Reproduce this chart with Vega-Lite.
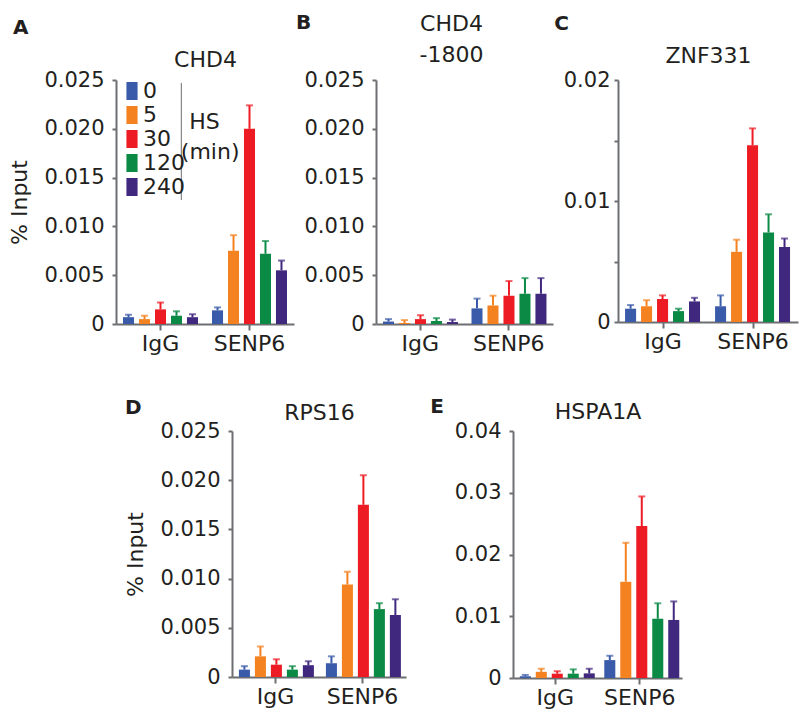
{
  "$schema": "https://vega.github.io/schema/vega-lite/v6.json",
  "padding": {"left": 8, "top": 12, "right": 4, "bottom": 5},
  "background": "white",
  "config": {
    "font": "DejaVu Sans",
    "view": {"stroke": null},
    "axis": {"labelFont": "DejaVu Sans", "labelFontSize": 22, "labelColor": "#231F20", "titleFont": "DejaVu Sans", "titleFontSize": 22, "titleFontWeight": "normal", "titleColor": "#231F20", "domainColor": "#6D6E71", "domainWidth": 2, "tickColor": "#6D6E71", "tickWidth": 2, "grid": false},
    "axisY": {"tickSize": 4, "labelPadding": 8, "titlePadding": 12, "labelFontSize": 21},
    "axisX": {"tickSize": 6, "labelPadding": 3, "labelAngle": 0},
    "title": {"font": "DejaVu Sans", "fontSize": 20, "fontWeight": "bold", "color": "#231F20", "anchor": "start", "frame": "bounds", "baseline": "alphabetic"},
    "text": {"font": "DejaVu Sans", "fontSize": 22, "color": "#231F20"}
  },
  "datasets": {
    "A": [
      {"antibody": "IgG", "time": "0", "value": 0.0007, "upper": 0.00095},
      {"antibody": "IgG", "time": "5", "value": 0.0005, "upper": 0.00085},
      {"antibody": "IgG", "time": "30", "value": 0.0015, "upper": 0.0022},
      {"antibody": "IgG", "time": "120", "value": 0.00085, "upper": 0.0013},
      {"antibody": "IgG", "time": "240", "value": 0.0007, "upper": 0.001},
      {"antibody": "SENP6", "time": "0", "value": 0.0014, "upper": 0.0017},
      {"antibody": "SENP6", "time": "5", "value": 0.0075, "upper": 0.0091},
      {"antibody": "SENP6", "time": "30", "value": 0.02, "upper": 0.0224},
      {"antibody": "SENP6", "time": "120", "value": 0.0072, "upper": 0.0085},
      {"antibody": "SENP6", "time": "240", "value": 0.0055, "upper": 0.0065}
    ],
    "B": [
      {"antibody": "IgG", "time": "0", "value": 0.00025, "upper": 0.0005},
      {"antibody": "IgG", "time": "5", "value": 0.0001, "upper": 0.0004},
      {"antibody": "IgG", "time": "30", "value": 0.0005, "upper": 0.0009},
      {"antibody": "IgG", "time": "120", "value": 0.0003, "upper": 0.0006},
      {"antibody": "IgG", "time": "240", "value": 0.0002, "upper": 0.00045},
      {"antibody": "SENP6", "time": "0", "value": 0.0016, "upper": 0.0026},
      {"antibody": "SENP6", "time": "5", "value": 0.0019, "upper": 0.0029},
      {"antibody": "SENP6", "time": "30", "value": 0.0029, "upper": 0.0044},
      {"antibody": "SENP6", "time": "120", "value": 0.0031, "upper": 0.0047},
      {"antibody": "SENP6", "time": "240", "value": 0.0031, "upper": 0.0047}
    ],
    "C": [
      {"antibody": "IgG", "time": "0", "value": 0.0011, "upper": 0.0014},
      {"antibody": "IgG", "time": "5", "value": 0.0013, "upper": 0.0018},
      {"antibody": "IgG", "time": "30", "value": 0.0019, "upper": 0.0022},
      {"antibody": "IgG", "time": "120", "value": 0.0009, "upper": 0.0011},
      {"antibody": "IgG", "time": "240", "value": 0.0017, "upper": 0.002},
      {"antibody": "SENP6", "time": "0", "value": 0.0013, "upper": 0.0022},
      {"antibody": "SENP6", "time": "5", "value": 0.0058, "upper": 0.0068},
      {"antibody": "SENP6", "time": "30", "value": 0.0146, "upper": 0.016},
      {"antibody": "SENP6", "time": "120", "value": 0.0074, "upper": 0.0089},
      {"antibody": "SENP6", "time": "240", "value": 0.0062, "upper": 0.0069}
    ],
    "D": [
      {"antibody": "IgG", "time": "0", "value": 0.00075, "upper": 0.0011},
      {"antibody": "IgG", "time": "5", "value": 0.0021, "upper": 0.0031},
      {"antibody": "IgG", "time": "30", "value": 0.00125, "upper": 0.0018},
      {"antibody": "IgG", "time": "120", "value": 0.00075, "upper": 0.0011},
      {"antibody": "IgG", "time": "240", "value": 0.0012, "upper": 0.0016},
      {"antibody": "SENP6", "time": "0", "value": 0.0014, "upper": 0.0021},
      {"antibody": "SENP6", "time": "5", "value": 0.0094, "upper": 0.0107},
      {"antibody": "SENP6", "time": "30", "value": 0.0175, "upper": 0.0205},
      {"antibody": "SENP6", "time": "120", "value": 0.0069, "upper": 0.0075},
      {"antibody": "SENP6", "time": "240", "value": 0.0063, "upper": 0.0079}
    ],
    "E": [
      {"antibody": "IgG", "time": "0", "value": 0.0003, "upper": 0.0005},
      {"antibody": "IgG", "time": "5", "value": 0.001, "upper": 0.0015},
      {"antibody": "IgG", "time": "30", "value": 0.0007, "upper": 0.0011},
      {"antibody": "IgG", "time": "120", "value": 0.0007, "upper": 0.0014},
      {"antibody": "IgG", "time": "240", "value": 0.00075, "upper": 0.0015},
      {"antibody": "SENP6", "time": "0", "value": 0.0029, "upper": 0.0036},
      {"antibody": "SENP6", "time": "5", "value": 0.0156, "upper": 0.0219},
      {"antibody": "SENP6", "time": "30", "value": 0.0246, "upper": 0.0294},
      {"antibody": "SENP6", "time": "120", "value": 0.0096, "upper": 0.0121},
      {"antibody": "SENP6", "time": "240", "value": 0.0094, "upper": 0.0124}
    ]
  },
  "spacing": 43,
  "center": true,
  "vconcat": [
    {
      "spacing": 1,
      "hconcat": [
        {
          "width": 178, "height": 244,
          "title": {"text": "A", "offset": 10, "dx": 4},
          "data": {"name": "A"},
          "resolve": {"axis": {"x": "independent", "y": "independent"}},
          "layer": [
            {"mark": {"type": "bar"},
             "encoding": {
               "x": {"field": "antibody", "type": "nominal", "sort": ["IgG", "SENP6"], "scale": {"paddingInner": 0.1, "paddingOuter": 0.05}, "axis": {"orient": "bottom", "title": null}},
               "xOffset": {"field": "time", "type": "nominal", "sort": ["0", "5", "30", "120", "240"], "scale": {"paddingInner": 0.31, "paddingOuter": 0.16}},
               "y": {"field": "value", "type": "quantitative", "scale": {"domain": [0, 0.025], "nice": false}, "axis": {"title": "% Input", "values": [0, 0.005, 0.01, 0.015, 0.02, 0.025], "labelExpr": "datum.value == 0 ? '0' : format(datum.value, '.3f')"}},
               "color": {"field": "time", "type": "nominal", "sort": ["0", "5", "30", "120", "240"], "scale": {"domain": ["0", "5", "30", "120", "240"], "range": ["#3A5BA9", "#F58220", "#ED1C24", "#0B8A45", "#41287F"]},
                 "legend": {"orient": "none", "legendX": 5, "legendY": 0, "title": null, "symbolType": "M-0.62,-1H0.62V1H-0.62Z", "symbolSize": 324, "symbolStrokeWidth": 0, "symbolOpacity": 1, "labelFont": "DejaVu Sans", "labelFontSize": 22, "labelColor": "#231F20", "labelOffset": 0, "rowPadding": 2, "padding": 0}}
             }},
            {"mark": {"type": "rule", "strokeWidth": 2},
             "encoding": {
               "x": {"field": "antibody", "type": "nominal", "sort": ["IgG", "SENP6"], "axis": null},
               "xOffset": {"field": "time", "type": "nominal", "sort": ["0", "5", "30", "120", "240"]},
               "y": {"field": "value", "type": "quantitative", "axis": null},
               "y2": {"field": "upper"},
               "color": {"field": "time", "type": "nominal", "legend": null}
             }},
            {"mark": {"type": "tick", "thickness": 2, "size": 7},
             "encoding": {
               "x": {"field": "antibody", "type": "nominal", "sort": ["IgG", "SENP6"], "axis": {"orient": "top", "title": "CHD4", "labels": false, "ticks": false, "tickSize": 0, "domain": false, "titlePadding": 9}},
               "xOffset": {"field": "time", "type": "nominal", "sort": ["0", "5", "30", "120", "240"]},
               "y": {"field": "upper", "type": "quantitative", "axis": null},
               "color": {"field": "time", "type": "nominal", "legend": null}
             }},
            {"data": {"values": [{}]},
             "mark": {"type": "rule", "strokeWidth": 1, "color": "#6D6E71"},
             "encoding": {
               "x": {"datum": "IgG", "type": "nominal", "bandPosition": 0.76, "axis": null},
               "y": {"datum": 0.0247, "type": "quantitative", "axis": null},
               "y2": {"datum": 0.0127}
             }},
            {"data": {"values": [{}]},
             "mark": {"type": "text", "align": "center", "baseline": "alphabetic"},
             "encoding": {
               "x": {"datum": "IgG", "type": "nominal", "bandPosition": 1.05, "axis": null},
               "y": {"datum": 0.02, "type": "quantitative", "axis": null},
               "text": {"value": "HS"}
             }},
            {"data": {"values": [{}]},
             "mark": {"type": "text", "align": "center", "baseline": "alphabetic"},
             "encoding": {
               "x": {"datum": "IgG", "type": "nominal", "bandPosition": 1.12, "axis": null},
               "y": {"datum": 0.0169, "type": "quantitative", "axis": null},
               "text": {"value": "(min)"}
             }}
          ]
        },
        {
          "width": 177, "height": 244,
          "title": {"text": "B", "offset": -21, "dx": -8},
          "data": {"name": "B"},
          "resolve": {"axis": {"x": "independent", "y": "independent"}},
          "layer": [
            {"mark": {"type": "bar"},
             "encoding": {
               "x": {"field": "antibody", "type": "nominal", "sort": ["IgG", "SENP6"], "scale": {"paddingInner": 0.1, "paddingOuter": 0.05}, "axis": {"orient": "bottom", "title": null}},
               "xOffset": {"field": "time", "type": "nominal", "sort": ["0", "5", "30", "120", "240"], "scale": {"paddingInner": 0.31, "paddingOuter": 0.16}},
               "y": {"field": "value", "type": "quantitative", "scale": {"domain": [0, 0.025], "nice": false}, "axis": {"title": null, "values": [0, 0.005, 0.01, 0.015, 0.02, 0.025], "labelExpr": "datum.value == 0 ? '0' : format(datum.value, '.3f')"}},
               "color": {"field": "time", "type": "nominal", "scale": {"domain": ["0", "5", "30", "120", "240"], "range": ["#3A5BA9", "#F58220", "#ED1C24", "#0B8A45", "#41287F"]}, "legend": null}
             }},
            {"mark": {"type": "rule", "strokeWidth": 2},
             "encoding": {
               "x": {"field": "antibody", "type": "nominal", "sort": ["IgG", "SENP6"], "axis": null},
               "xOffset": {"field": "time", "type": "nominal", "sort": ["0", "5", "30", "120", "240"]},
               "y": {"field": "value", "type": "quantitative", "axis": null},
               "y2": {"field": "upper"},
               "color": {"field": "time", "type": "nominal", "legend": null}
             }},
            {"mark": {"type": "tick", "thickness": 2, "size": 7},
             "encoding": {
               "x": {"field": "antibody", "type": "nominal", "sort": ["IgG", "SENP6"], "axis": {"orient": "top", "title": ["CHD4", "-1800"], "titleLineHeight": 31, "labels": false, "ticks": false, "tickSize": 0, "domain": false, "titlePadding": 14, "titleX": 75}},
               "xOffset": {"field": "time", "type": "nominal", "sort": ["0", "5", "30", "120", "240"]},
               "y": {"field": "upper", "type": "quantitative", "axis": null},
               "color": {"field": "time", "type": "nominal", "legend": null}
             }}
          ]
        },
        {
          "width": 180, "height": 242,
          "title": {"text": "C", "offset": 10, "dx": -9},
          "data": {"name": "C"},
          "resolve": {"axis": {"x": "independent", "y": "independent"}},
          "layer": [
            {"mark": {"type": "bar"},
             "encoding": {
               "x": {"field": "antibody", "type": "nominal", "sort": ["IgG", "SENP6"], "scale": {"paddingInner": 0.1, "paddingOuter": 0.05}, "axis": {"orient": "bottom", "title": null}},
               "xOffset": {"field": "time", "type": "nominal", "sort": ["0", "5", "30", "120", "240"], "scale": {"paddingInner": 0.31, "paddingOuter": 0.16}},
               "y": {"field": "value", "type": "quantitative", "scale": {"domain": [0, 0.02], "nice": false}, "axis": {"title": null, "labelPadding": 4, "values": [0, 0.005, 0.01, 0.015, 0.02], "labelExpr": "datum.value == 0 ? '0' : (abs(datum.value - 0.01) < 0.000001 || abs(datum.value - 0.02) < 0.000001) ? format(datum.value, '.2f') : ''"}},
               "color": {"field": "time", "type": "nominal", "scale": {"domain": ["0", "5", "30", "120", "240"], "range": ["#3A5BA9", "#F58220", "#ED1C24", "#0B8A45", "#41287F"]}, "legend": null}
             }},
            {"mark": {"type": "rule", "strokeWidth": 2},
             "encoding": {
               "x": {"field": "antibody", "type": "nominal", "sort": ["IgG", "SENP6"], "axis": null},
               "xOffset": {"field": "time", "type": "nominal", "sort": ["0", "5", "30", "120", "240"]},
               "y": {"field": "value", "type": "quantitative", "axis": null},
               "y2": {"field": "upper"},
               "color": {"field": "time", "type": "nominal", "legend": null}
             }},
            {"mark": {"type": "tick", "thickness": 2, "size": 7},
             "encoding": {
               "x": {"field": "antibody", "type": "nominal", "sort": ["IgG", "SENP6"], "axis": {"orient": "top", "title": "ZNF331", "labels": false, "ticks": false, "tickSize": 0, "domain": false, "titlePadding": 13}},
               "xOffset": {"field": "time", "type": "nominal", "sort": ["0", "5", "30", "120", "240"]},
               "y": {"field": "upper", "type": "quantitative", "axis": null},
               "color": {"field": "time", "type": "nominal", "legend": null}
             }}
          ]
        }
      ]
    },
    {
      "spacing": 24,
      "title": {"text": " ", "orient": "left", "offset": 38, "fontSize": 8},
      "hconcat": [
        {
          "width": 174, "height": 246,
          "title": {"text": "D", "offset": -17, "dx": 0},
          "data": {"name": "D"},
          "resolve": {"axis": {"x": "independent", "y": "independent"}},
          "layer": [
            {"mark": {"type": "bar"},
             "encoding": {
               "x": {"field": "antibody", "type": "nominal", "sort": ["IgG", "SENP6"], "scale": {"paddingInner": 0.1, "paddingOuter": 0.05}, "axis": {"orient": "bottom", "title": null}},
               "xOffset": {"field": "time", "type": "nominal", "sort": ["0", "5", "30", "120", "240"], "scale": {"paddingInner": 0.31, "paddingOuter": 0.16}},
               "y": {"field": "value", "type": "quantitative", "scale": {"domain": [0, 0.025], "nice": false}, "axis": {"title": "% Input", "values": [0, 0.005, 0.01, 0.015, 0.02, 0.025], "labelExpr": "datum.value == 0 ? '0' : format(datum.value, '.3f')"}},
               "color": {"field": "time", "type": "nominal", "scale": {"domain": ["0", "5", "30", "120", "240"], "range": ["#3A5BA9", "#F58220", "#ED1C24", "#0B8A45", "#41287F"]}, "legend": null}
             }},
            {"mark": {"type": "rule", "strokeWidth": 2},
             "encoding": {
               "x": {"field": "antibody", "type": "nominal", "sort": ["IgG", "SENP6"], "axis": null},
               "xOffset": {"field": "time", "type": "nominal", "sort": ["0", "5", "30", "120", "240"]},
               "y": {"field": "value", "type": "quantitative", "axis": null},
               "y2": {"field": "upper"},
               "color": {"field": "time", "type": "nominal", "legend": null}
             }},
            {"mark": {"type": "tick", "thickness": 2, "size": 7},
             "encoding": {
               "x": {"field": "antibody", "type": "nominal", "sort": ["IgG", "SENP6"], "axis": {"orient": "top", "title": "RPS16", "labels": false, "ticks": false, "tickSize": 0, "domain": false, "titlePadding": 7}},
               "xOffset": {"field": "time", "type": "nominal", "sort": ["0", "5", "30", "120", "240"]},
               "y": {"field": "upper", "type": "quantitative", "axis": null},
               "color": {"field": "time", "type": "nominal", "legend": null}
             }}
          ]
        },
        {
          "width": 169, "height": 247,
          "title": {"text": "E", "offset": -17, "dx": -24},
          "data": {"name": "E"},
          "resolve": {"axis": {"x": "independent", "y": "independent"}},
          "layer": [
            {"mark": {"type": "bar"},
             "encoding": {
               "x": {"field": "antibody", "type": "nominal", "sort": ["IgG", "SENP6"], "scale": {"paddingInner": 0.1, "paddingOuter": 0.05}, "axis": {"orient": "bottom", "title": null}},
               "xOffset": {"field": "time", "type": "nominal", "sort": ["0", "5", "30", "120", "240"], "scale": {"paddingInner": 0.31, "paddingOuter": 0.16}},
               "y": {"field": "value", "type": "quantitative", "scale": {"domain": [0, 0.04], "nice": false}, "axis": {"title": null, "values": [0, 0.01, 0.02, 0.03, 0.04], "labelExpr": "datum.value == 0 ? '0' : format(datum.value, '.2f')"}},
               "color": {"field": "time", "type": "nominal", "scale": {"domain": ["0", "5", "30", "120", "240"], "range": ["#3A5BA9", "#F58220", "#ED1C24", "#0B8A45", "#41287F"]}, "legend": null}
             }},
            {"mark": {"type": "rule", "strokeWidth": 2},
             "encoding": {
               "x": {"field": "antibody", "type": "nominal", "sort": ["IgG", "SENP6"], "axis": null},
               "xOffset": {"field": "time", "type": "nominal", "sort": ["0", "5", "30", "120", "240"]},
               "y": {"field": "value", "type": "quantitative", "axis": null},
               "y2": {"field": "upper"},
               "color": {"field": "time", "type": "nominal", "legend": null}
             }},
            {"mark": {"type": "tick", "thickness": 2, "size": 7},
             "encoding": {
               "x": {"field": "antibody", "type": "nominal", "sort": ["IgG", "SENP6"], "axis": {"orient": "top", "title": "HSPA1A", "labels": false, "ticks": false, "tickSize": 0, "domain": false, "titlePadding": 8}},
               "xOffset": {"field": "time", "type": "nominal", "sort": ["0", "5", "30", "120", "240"]},
               "y": {"field": "upper", "type": "quantitative", "axis": null},
               "color": {"field": "time", "type": "nominal", "legend": null}
             }}
          ]
        }
      ]
    }
  ]
}
